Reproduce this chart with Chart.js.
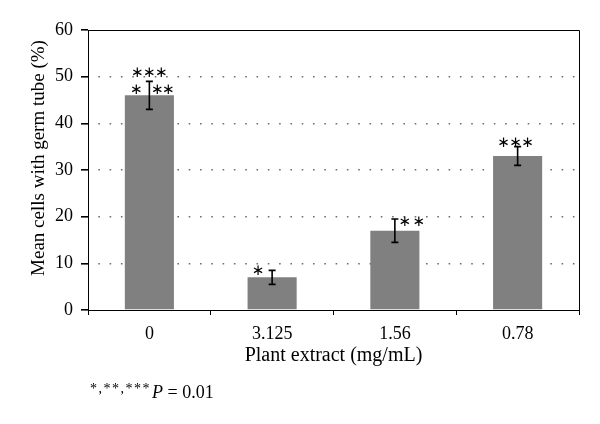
<!DOCTYPE html>
<html>
<head>
<meta charset="utf-8">
<script src="https://cdn.jsdelivr.net/npm/chart.js@4.4.0/dist/chart.umd.min.js"></script>
<style>
  body { margin: 0; background: #fff; }
  #wrap { width: 600px; height: 424px; }
</style>
</head>
<body>
<div id="wrap"><canvas id="germchart" width="600" height="424"></canvas></div>
<script>
// data
const categories = ['0', '3.125', '1.56', '0.78'];
const meanValues = [46, 7, 17, 33];
const errorValues = [3, 1.5, 2.5, 2];
const starMarks = ['***|* **', '*', '**', '***'];
const yTicks = [0, 10, 20, 30, 40, 50, 60];
const yTitle = 'Mean cells with germ tube (%)';

const serif = "'Liberation Serif', 'DejaVu Serif', serif";

// error bars, significance stars, frame, y title and footnote
const extrasPlugin = {
  id: 'extras',
  afterDatasetsDraw(chart) {
    const ctx = chart.ctx;
    const xs = chart.scales.x;
    const ys = chart.scales.y;
    const area = chart.chartArea;
    ctx.save();

    // frame (top and right side)
    ctx.strokeStyle = '#000';
    ctx.lineWidth = 1;
    ctx.beginPath();
    ctx.moveTo(area.left, area.top + 0.5);
    ctx.lineTo(area.right + 0.5, area.top + 0.5);
    ctx.lineTo(area.right + 0.5, area.bottom);
    ctx.stroke();

    // error bars
    ctx.lineWidth = 1.6;
    for (let i = 0; i < meanValues.length; i++) {
      const x = xs.getPixelForValue(i);
      const yHi = ys.getPixelForValue(meanValues[i] + errorValues[i]);
      const yLo = ys.getPixelForValue(meanValues[i] - errorValues[i]);
      ctx.beginPath();
      ctx.moveTo(x, yHi); ctx.lineTo(x, yLo);
      ctx.moveTo(x - 3.5, yHi); ctx.lineTo(x + 3.5, yHi);
      ctx.moveTo(x - 3.5, yLo); ctx.lineTo(x + 3.5, yLo);
      ctx.stroke();
    }

    // stars
    ctx.fillStyle = '#000';
    ctx.font = "15px 'DejaVu Sans'";
    ctx.textAlign = 'center';
    ctx.textBaseline = 'middle';
    const star = (x, y) => ctx.fillText('\u2217', x, y);
    for (let i = 0; i < starMarks.length; i++) {
      const x = xs.getPixelForValue(i);
      const yHi = ys.getPixelForValue(meanValues[i] + errorValues[i]);
      const yBar = ys.getPixelForValue(meanValues[i]);
      const mark = starMarks[i];
      if (mark.indexOf('|') >= 0) {
        // top row centred above the error bar, second row flanking it
        [-12, 0, 12].forEach(dx => star(x + dx, yHi - 8));
        [-13, 8, 19].forEach(dx => star(x + dx, yBar - 5));
      } else if (mark === '*') {
        star(x - 14, yHi + 1);
      } else if (mark === '**') {
        [10, 24].forEach(dx => star(x + dx, yHi + 3));
      } else {
        [-14, -2, 10].forEach(dx => star(x + dx, yHi - 4));
      }
    }

    // y axis title
    ctx.save();
    ctx.font = "19px " + serif;
    ctx.textBaseline = 'alphabetic';
    ctx.translate(44, 158);
    ctx.rotate(-Math.PI / 2);
    ctx.fillText(yTitle, 0, 0);
    ctx.restore();

    // footnote
    ctx.textAlign = 'left';
    ctx.textBaseline = 'alphabetic';
    ctx.font = "14px " + serif;
    ctx.letterSpacing = '1.5px';
    ctx.fillText('*,**,***', 90, 393);
    const w1 = ctx.measureText('*,**,***').width;
    ctx.letterSpacing = '0px';
    ctx.font = "italic 18px " + serif;
    ctx.fillText('P', 91 + w1, 398);
    const w2 = ctx.measureText('P').width;
    ctx.font = "18px " + serif;
    ctx.fillText(' = 0.01', 91 + w1 + w2, 398);
    ctx.restore();
  }
};

const ctx = document.getElementById('germchart');
const germChart = new Chart(ctx, {
  type: 'bar',
  data: {
    labels: categories,
    datasets: [{
      data: meanValues,
      backgroundColor: '#808080',
      borderWidth: 0,
      categoryPercentage: 1,
      barPercentage: 0.4
    }]
  },
  options: {
    responsive: false,
    animation: false,
    layout: { padding: { left: 0, top: 30, right: 21, bottom: 54 } },
    plugins: { legend: { display: false }, tooltip: { enabled: false } },
    scales: {
      x: {
        afterFit: (s) => { s.height = 60; },
        border: { display: true, color: '#000', width: 1 },
        grid: {
          offset: true,
          drawOnChartArea: false,
          drawTicks: true,
          tickLength: 5,
          tickColor: '#000'
        },
        ticks: { color: '#000', font: { family: serif, size: 18 }, padding: 8 },
        title: {
          display: true,
          text: 'Plant extract (mg/mL)',
          color: '#000',
          font: { family: serif, size: 20 },
          padding: { top: 0, bottom: 2 }
        }
      },
      y: {
        min: 0,
        max: 60,
        afterFit: (s) => { s.width = 88; },
        afterBuildTicks: (s) => { s.ticks = yTicks.map(v => ({ value: v })); },
        border: { display: true, color: '#000', width: 1, dash: [1.6, 9.7], dashOffset: 2 },
        grid: {
          color: (c) => (c.tick && (c.tick.value === 0 || c.tick.value === 60)) ? 'rgba(0,0,0,0)' : '#6e6e6e',
          lineWidth: 1.6,
          drawTicks: true,
          tickLength: 7,
          tickColor: '#000',
          tickBorderDash: []
        },
        ticks: { color: '#000', font: { family: serif, size: 18 }, padding: 8 }
      }
    }
  },
  plugins: [extrasPlugin]
});
</script>
</body>
</html>
